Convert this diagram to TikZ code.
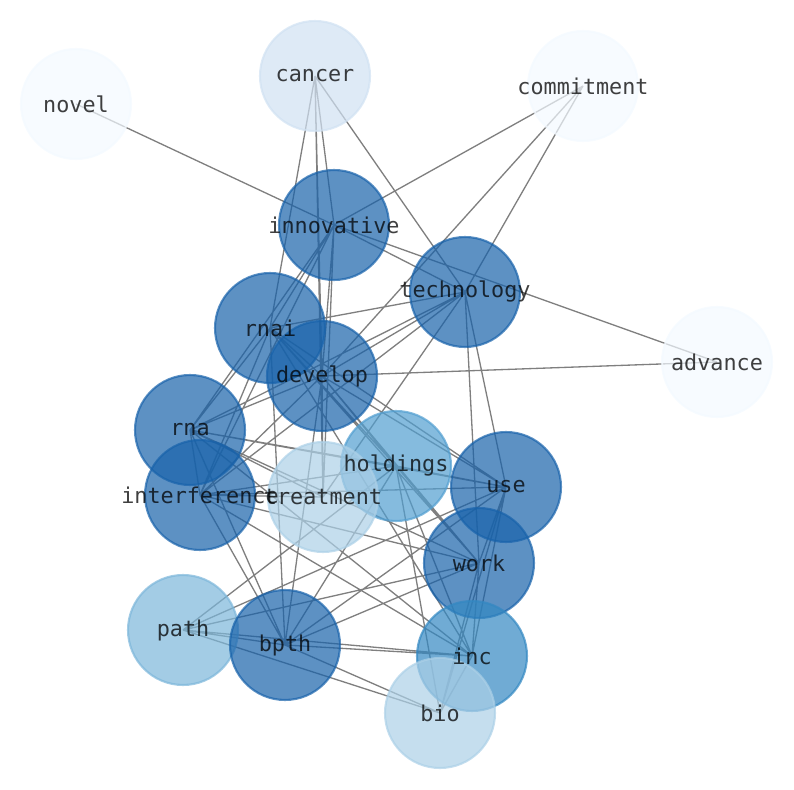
\documentclass[tikz,border=0pt]{standalone}
\usepackage{fontspec}
\setmonofont{DejaVu Sans Mono}
\usetikzlibrary{positioning}
\pgfdeclarelayer{edges}
\pgfsetlayers{edges,main}

\definecolor{bluedark}{RGB}{24,98,170}
\definecolor{bluemid}{RGB}{51,136,194}
\definecolor{bluehold}{RGB}{81,158,208}
\definecolor{bluepath}{RGB}{124,182,218}
\definecolor{bluepale}{RGB}{172,208,231}
\definecolor{bluefaint}{RGB}{208,225,242}
\definecolor{bluewhite}{RGB}{243,249,255}

\tikzset{
  word/.style={circle, minimum size=2.2cm, inner sep=0pt, line width=1.2pt,
    fill opacity=0.7, draw opacity=0.7},
  wordtext/.style={font=\ttfamily\fontsize{12.4}{14}\selectfont, text opacity=0.75, inner sep=0pt},
  link/.style={draw=black, opacity=0.5, line width=0.75pt}
}

\begin{document}
\begin{tikzpicture}[x=0.02cm, y=-0.02cm]
\useasboundingbox (0,0) rectangle (794,790);

% word circles
\node[word, fill=bluewhite, draw=bluewhite] (novel) at (76,104) {};
\node[word, fill=bluefaint, draw=bluefaint] (cancer) at (315,76) {};
\node[word, fill=bluewhite, draw=bluewhite] (commit) at (583,86) {};
\node[word, fill=bluedark, draw=bluedark] (innov) at (334,225) {};
\node[word, fill=bluedark, draw=bluedark] (tech) at (465,292) {};
\node[word, fill=bluewhite, draw=bluewhite] (adv) at (717,362) {};
\node[word, fill=bluedark, draw=bluedark] (rnai) at (270,328) {};
\node[word, fill=bluedark, draw=bluedark] (devel) at (322,376) {};
\node[word, fill=bluedark, draw=bluedark] (rna) at (190,430) {};
\node[word, fill=bluedark, draw=bluedark] (interf) at (200,495) {};
\node[word, fill=bluehold, draw=bluehold] (hold) at (396,466) {};
\node[word, fill=bluepale, draw=bluepale] (treat) at (323,497) {};
\node[word, fill=bluedark, draw=bluedark] (use) at (506,487) {};
\node[word, fill=bluedark, draw=bluedark] (work) at (479,563) {};
\node[word, fill=bluepath, draw=bluepath] (path) at (183,630) {};
\node[word, fill=bluedark, draw=bluedark] (bpth) at (285,645) {};
\node[word, fill=bluemid, draw=bluemid] (inc) at (472,656) {};
\node[word, fill=bluepale, draw=bluepale] (bio) at (440,713) {};

% labels on top of all circles
\node[wordtext] (novel-t) at (novel) {novel};
\node[wordtext] (cancer-t) at (cancer) {cancer};
\node[wordtext] (commit-t) at (commit) {commitment};
\node[wordtext] (innov-t) at (innov) {innovative};
\node[wordtext] (tech-t) at (tech) {technology};
\node[wordtext] (adv-t) at (adv) {advance};
\node[wordtext] (rnai-t) at (rnai) {rnai};
\node[wordtext] (devel-t) at (devel) {develop};
\node[wordtext] (rna-t) at (rna) {rna};
\node[wordtext] (interf-t) at (interf) {interference};
\node[wordtext] (hold-t) at (hold) {holdings};
\node[wordtext] (treat-t) at (treat) {treatment};
\node[wordtext] (use-t) at (use) {use};
\node[wordtext] (work-t) at (work) {work};
\node[wordtext] (path-t) at (path) {path};
\node[wordtext] (bpth-t) at (bpth) {bpth};
\node[wordtext] (inc-t) at (inc) {inc};
\node[wordtext] (bio-t) at (bio) {bio};

% co-occurrence links, behind the circles
\begin{pgfonlayer}{edges}
\draw[link]
  (novel.center) -- (innov.center)
  (adv.center) -- (innov.center)   (adv.center) -- (devel.center)
  (commit.center) -- (innov.center) (commit.center) -- (devel.center) (commit.center) -- (tech.center)
  (cancer.center) -- (rnai.center) (cancer.center) -- (devel.center) (cancer.center) -- (treat.center)
  (cancer.center) -- (innov.center) (cancer.center) -- (tech.center)
  (innov.center) -- (tech.center)  (innov.center) -- (rnai.center) (innov.center) -- (rna.center)
  (innov.center) -- (interf.center) (innov.center) -- (devel.center) (innov.center) -- (treat.center)
  (tech.center) -- (rnai.center) (tech.center) -- (rna.center) (tech.center) -- (devel.center)
  (tech.center) -- (interf.center) (tech.center) -- (treat.center) (tech.center) -- (use.center)
  (tech.center) -- (work.center)
  (rnai.center) -- (devel.center) (rnai.center) -- (rna.center) (rnai.center) -- (interf.center)
  (rnai.center) -- (bpth.center) (rnai.center) -- (hold.center) (rnai.center) -- (use.center)
  (rnai.center) -- (work.center) (rnai.center) -- (inc.center)
  (devel.center) -- (rna.center) (devel.center) -- (interf.center) (devel.center) -- (treat.center)
  (devel.center) -- (hold.center) (devel.center) -- (use.center) (devel.center) -- (work.center)
  (devel.center) -- (bpth.center)
  (rna.center) -- (interf.center) (rna.center) -- (hold.center) (rna.center) -- (use.center)
  (rna.center) -- (work.center) (rna.center) -- (inc.center) (rna.center) -- (bpth.center)
  (rna.center) -- (treat.center)
  (interf.center) -- (treat.center) (interf.center) -- (hold.center) (interf.center) -- (use.center)
  (interf.center) -- (work.center) (interf.center) -- (inc.center) (interf.center) -- (bpth.center)
  (hold.center) -- (use.center) (hold.center) -- (work.center) (hold.center) -- (inc.center)
  (hold.center) -- (bpth.center) (hold.center) -- (path.center) (hold.center) -- (bio.center)
  (use.center) -- (work.center) (use.center) -- (inc.center) (use.center) -- (bpth.center)
  (use.center) -- (path.center) (use.center) -- (bio.center)
  (work.center) -- (inc.center) (work.center) -- (bpth.center) (work.center) -- (path.center)
  (work.center) -- (bio.center)
  (inc.center) -- (bpth.center) (inc.center) -- (path.center) (inc.center) -- (bio.center)
  (bpth.center) -- (path.center) (bpth.center) -- (bio.center)
  (path.center) -- (bio.center);
\end{pgfonlayer}
\end{tikzpicture}
\end{document}
